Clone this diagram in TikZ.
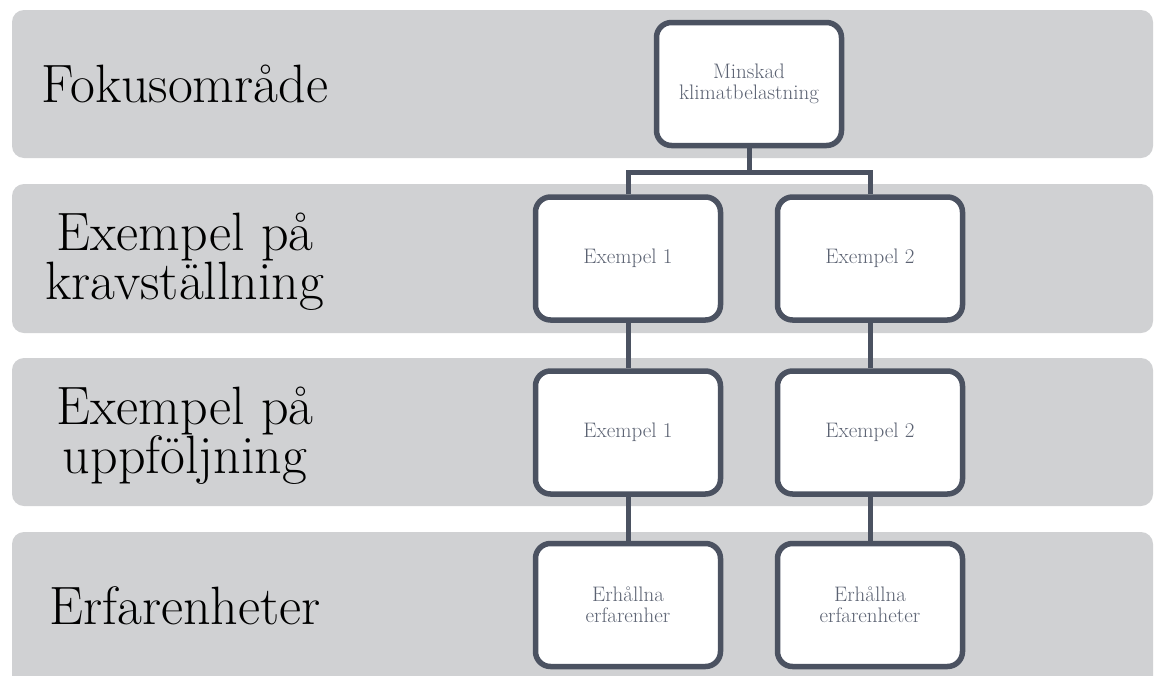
\documentclass[tikz,border=0pt]{standalone}
\usepackage{fontspec}
\definecolor{bandgray}{HTML}{D0D1D3}
\definecolor{boxborder}{HTML}{4B5261}
\definecolor{boxtext}{HTML}{5B6272}
\tikzset{
  band/.style={fill=bandgray, rounded corners=12pt},
  rowlabel/.style={text=black, align=center, font=\fontsize{54}{49}\selectfont, inner sep=0pt},
  chartbox/.style={draw=boxborder, line width=5.5pt, fill=white, rounded corners=15pt,
    minimum width=185pt, minimum height=123pt, align=center, text=boxtext,
    font=\fontsize{21}{21}\selectfont, inner sep=2pt},
  conn/.style={draw=boxborder, line width=5pt}
}
\begin{document}
\begin{tikzpicture}[x=1pt,y=-1pt]
\clip (0,0) rectangle (1154,675);
\fill[white] (0,0) rectangle (1154,675);
% bands
\fill[band] (12,10) rectangle (1153,158);
\fill[band] (12,184) rectangle (1153,333);
\fill[band] (12,358) rectangle (1153,506);
\fill[band] (12,532) rectangle (1153,700);
% row labels
\node[rowlabel] (l1) at (185,84) {Fokusområde};
\node[rowlabel] (l2) at (185,262) {Exempel på\\kravställning};
\node[rowlabel] (l3) at (185,436) {Exempel på\\uppföljning};
\node[rowlabel] (l4) at (185,606) {Erfarenheter};
% boxes
\node[chartbox] (top) at (749,84) {Minskad\\klimatbelastning};
\node[chartbox] (k1) at (628,258.5) {Exempel 1};
\node[chartbox] (k2) at (870,258.5) {Exempel 2};
\node[chartbox] (u1) at (628,432.5) {Exempel 1};
\node[chartbox] (u2) at (870,432.5) {Exempel 2};
\node[chartbox] (e1) at (628,605) {Erhållna\\erfarenher};
\node[chartbox] (e2) at (870,605) {Erhållna\\erfarenheter};
% connectors
\coordinate (j) at (749,172);
\draw[conn] (top.south) -- (j);
\draw[conn] (k1.north) |- (j) -| (k2.north);
\draw[conn] (k1.south) -- (u1.north);
\draw[conn] (k2.south) -- (u2.north);
\draw[conn] (u1.south) -- (e1.north);
\draw[conn] (u2.south) -- (e2.north);
\end{tikzpicture}
\end{document}
